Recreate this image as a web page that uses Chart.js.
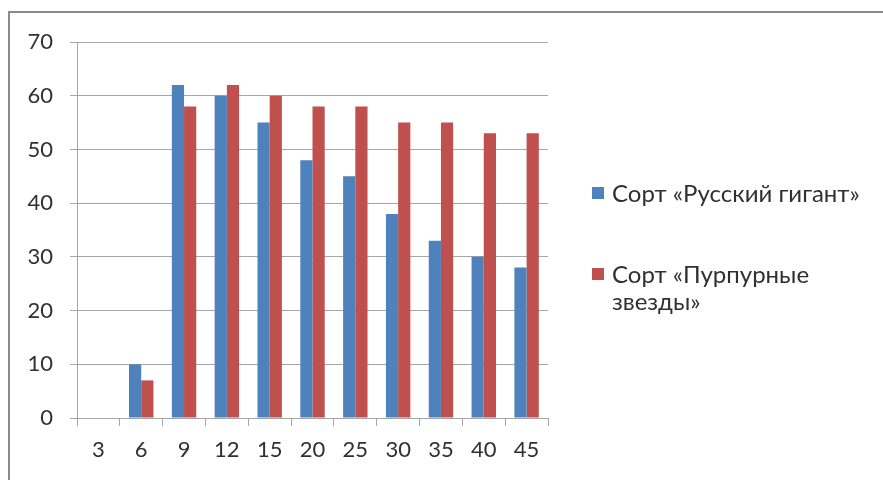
<!DOCTYPE html>
<html>
<head>
<meta charset="utf-8">
<script src="https://cdn.jsdelivr.net/npm/chart.js@4"></script>
<style>
  html, body { margin: 0; padding: 0; background: #fff; }
  #wrap { position: relative; width: 883px; height: 480px; overflow: hidden; }
  #frame { position: absolute; left: 8px; top: 11px; width: 900px; height: 500px;
           border-left: 2px solid #8a8a8a; border-top: 2px solid #8a8a8a; }
  canvas { position: absolute; left: 0; top: 0; }
  .legend { position: absolute; left: 592px; font-family: Lato, "Open Sans", sans-serif;
            font-size: 24px; color: #303030; line-height: 27px; }
  .legend .sw { position: absolute; left: 0; top: 8px; width: 12px; height: 12px; }
  .legend .tx { margin-left: 20px; width: 280px; white-space: nowrap; }
</style>
</head>
<body>
<div id="wrap">
  <div id="frame"></div>
  <canvas id="c" width="883" height="480"></canvas>
  <div class="legend" id="leg"></div>
</div>
<script>
// Days after sowing and germination counts for two tomato varieties
const categories = ['3', '6', '9', '12', '15', '20', '25', '30', '35', '40', '45'];
const russkiyGigant = [0, 10, 62, 60, 55, 48, 45, 38, 33, 30, 28];
const purpurnyeZvezdy = [0, 7, 58, 62, 60, 58, 58, 55, 55, 53, 53];
const seriesNames = ['Сорт «Русский гигант»', 'Сорт «Пурпурные звезды»'];
// the second name breaks after its first two words
const legendLines = [[seriesNames[0]], ['Сорт «Пурпурные', 'звезды»']];
const seriesColors = ['#4F81BD', '#C0504D'];

const font = { family: 'Lato, "Open Sans", sans-serif', size: 22 };

new Chart(document.getElementById('c'), {
  type: 'bar',
  data: {
    labels: categories,
    datasets: [
      { label: seriesNames[0], data: russkiyGigant, backgroundColor: seriesColors[0] },
      { label: seriesNames[1], data: purpurnyeZvezdy, backgroundColor: seriesColors[1] }
    ]
  },
  options: {
    responsive: false,
    animation: false,
    events: [],
    layout: { padding: { left: 0, right: 335, top: 42, bottom: 0 } },
    datasets: { bar: { categoryPercentage: 0.57, barPercentage: 1.0 } },
    plugins: { legend: { display: false }, tooltip: { enabled: false } },
    scales: {
      x: {
        grid: { offset: true, drawOnChartArea: false, color: '#a6a6a6', tickLength: 8 },
        border: { color: '#a6a6a6', width: 1 },
        ticks: { font: font, color: '#303030', padding: 11, maxRotation: 0 },
        afterFit: (s) => { s.height = 62; }
      },
      y: {
        min: 0, max: 70,
        grid: { color: '#a6a6a6', tickLength: 7 },
        border: { color: '#a6a6a6', width: 1 },
        ticks: { stepSize: 10, font: font, color: '#303030', padding: 17 },
        afterFit: (s) => { s.width = 77; }
      }
    }
  }
});

// Legend drawn beside the plot
const leg = document.getElementById('leg');
const legendTops = [179, 260];
legendLines.forEach((lines, i) => {
  const item = document.createElement('div');
  item.style.position = 'absolute';
  item.style.top = legendTops[i] + 'px';
  item.style.left = '0px';
  const sw = document.createElement('div');
  sw.className = 'sw';
  sw.style.background = seriesColors[i];
  item.appendChild(sw);
  lines.forEach((line) => {
    const tx = document.createElement('div');
    tx.className = 'tx';
    tx.textContent = line;
    item.appendChild(tx);
  });
  leg.appendChild(item);
});
</script>
</body>
</html>
